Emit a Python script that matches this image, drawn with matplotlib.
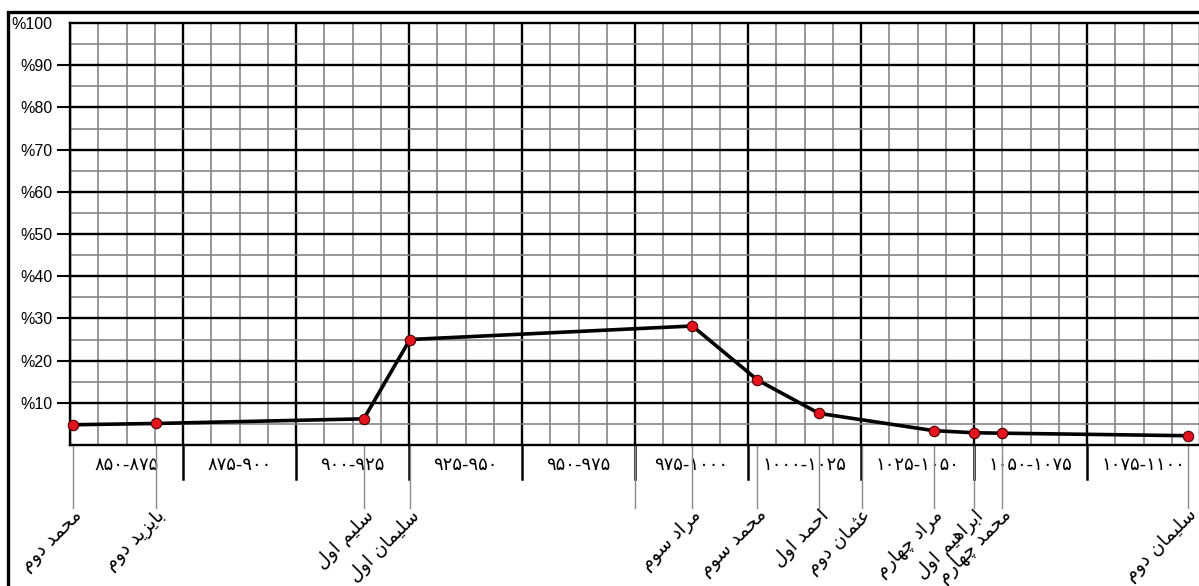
import numpy as np
import matplotlib
matplotlib.use('Agg')  # no display
import matplotlib.pyplot as plt
import matplotlib.transforms as mtransforms
from matplotlib.patches import Rectangle

# --- data ---
rulers = ['محمد دوم', 'بایزید دوم', 'سلیم اول', 'سلیمان اول', 'مراد سوم', 'محمد سوم',
          'احمد اول', 'عثمان دوم', 'مراد چهارم', 'ابراهیم اول', 'محمد چهارم', 'سلیمان دوم']
reign_years = [850.7, 869, 915, 925.2, 987.7, 1002.1, 1015.7, 1025.2, 1041.1, 1050.0, 1056.2, 1097.3]
share = [4.8, 5.1, 6.2, 25.0, 28.2, 15.4, 7.5, None, 3.4, 2.9, 2.8, 2.2]
periods = [850, 875, 900, 925, 950, 975, 1000, 1025, 1050, 1075, 1100]
y_ticks = [10, 20, 30, 40, 50, 60, 70, 80, 90, 100]
unlabelled_years = [975]

W, H = 1199, 586
FA_DIGITS = str.maketrans('0123456789', '۰۱۲۳۴۵۶۷۸۹')

# presentation forms: isolated, final, initial, medial
FORMS = {
    'ا': ('\uFE8D', '\uFE8E', None, None),
    'ب': ('\uFE8F', '\uFE90', '\uFE91', '\uFE92'),
    'ث': ('\uFE99', '\uFE9A', '\uFE9B', '\uFE9C'),
    'ح': ('\uFEA1', '\uFEA2', '\uFEA3', '\uFEA4'),
    'د': ('\uFEA9', '\uFEAA', None, None),
    'ر': ('\uFEAD', '\uFEAE', None, None),
    'ز': ('\uFEAF', '\uFEB0', None, None),
    'س': ('\uFEB1', '\uFEB2', '\uFEB3', '\uFEB4'),
    'ع': ('\uFEC9', '\uFECA', '\uFECB', '\uFECC'),
    'ل': ('\uFEDD', '\uFEDE', '\uFEDF', '\uFEE0'),
    'م': ('\uFEE1', '\uFEE2', '\uFEE3', '\uFEE4'),
    'ن': ('\uFEE5', '\uFEE6', '\uFEE7', '\uFEE8'),
    'ه': ('\uFEE9', '\uFEEA', '\uFEEB', '\uFEEC'),
    'و': ('\uFEED', '\uFEEE', None, None),
    'ی': ('\uFBFC', '\uFBFD', '\uFBFE', '\uFBFF'),
    'چ': ('\uFB7A', '\uFB7B', '\uFB7C', '\uFB7D'),
}


def joins_left(ch):
    return ch in FORMS and FORMS[ch][2] is not None


def shape(text):
    # crude persian shaping + reversal, matplotlib has no bidi
    out = []
    for i, ch in enumerate(text):
        if ch not in FORMS:
            out.append(ch)
            continue
        prev = text[i - 1] if i > 0 else ''
        nxt = text[i + 1] if i + 1 < len(text) else ''
        to_prev = joins_left(prev)
        to_next = joins_left(ch) and nxt in FORMS
        iso, fin, ini, med = FORMS[ch]
        if to_prev and to_next:
            out.append(med)
        elif to_prev:
            out.append(fin)
        elif to_next:
            out.append(ini)
        else:
            out.append(iso)
    return ''.join(reversed(out))


fig = plt.figure(figsize=(W / 100, H / 100), dpi=100)
ax = fig.add_axes([70 / W, 141 / H, 1130 / W, 422 / H])
ax.set_xlim(850, 1100)
ax.set_ylim(0, 100)

# grid paper
for x in np.arange(850, 1100.01, 6.25):
    major = (x - 850) % 25 == 0
    ax.axvline(x, color='black' if major else '#858585', lw=1.7 if major else 1.2, zorder=1)
for y in range(5, 100, 5):
    major = y % 10 == 0
    ax.axhline(y, color='black' if major else '#858585', lw=1.7 if major else 1.2, zorder=1)

for s in ax.spines.values():
    s.set_linewidth(1.7)

# the curve
xs = [yr for yr, v in zip(reign_years, share) if v is not None]
ys = [v for v in share if v is not None]
ax.plot(xs, ys, color='black', lw=2.6, zorder=3, solid_capstyle='round')
ax.plot(xs, ys, 'o', ms=7.5, mfc='#e5141c', mec='#4a0000', mew=0.8, zorder=4, clip_on=False)

# lines below the axis
trans = mtransforms.blended_transform_factory(ax.transData, ax.transAxes)
for p in periods[1:-1]:
    ax.plot([p, p], [0, -34 / 422], color='black', lw=1.8, transform=trans, clip_on=False)
for yr in reign_years + unlabelled_years:
    ax.plot([yr, yr], [0, -63 / 422], color='#8a8a8a', lw=1.0, transform=trans, clip_on=False)

for yr, name in zip(reign_years, rulers):
    ax.text(yr, -61 / 422, shape(name), transform=trans, rotation=45, rotation_mode='anchor',
            ha='right', va='top', fontsize=13.5, family='DejaVu Sans')

# period labels
centers = [(a + b) / 2 for a, b in zip(periods[:-1], periods[1:])]
labels = [(f'{a}-{b}').translate(FA_DIGITS) for a, b in zip(periods[:-1], periods[1:])]
ax.set_xticks(centers, labels=labels)
ax.tick_params(axis='x', length=0, pad=8, labelsize=13)

ax.set_yticks(y_ticks, labels=['%' + str(v) for v in y_ticks])
ax.tick_params(axis='y', length=9.4, width=1.5, pad=3, labelsize=11.5)
for lab in ax.get_yticklabels():
    lab.set_family('Liberation Sans')
ax.yaxis.get_major_ticks()[-1].tick1line.set_visible(False)

# outer frame
fig.patches.append(Rectangle((8 / W, -0.1), 1.2, (H - 11.5) / H + 0.1, transform=fig.transFigure,
                             fill=False, lw=2.4, ec='black'))

fig.savefig('out.png', dpi=100)
